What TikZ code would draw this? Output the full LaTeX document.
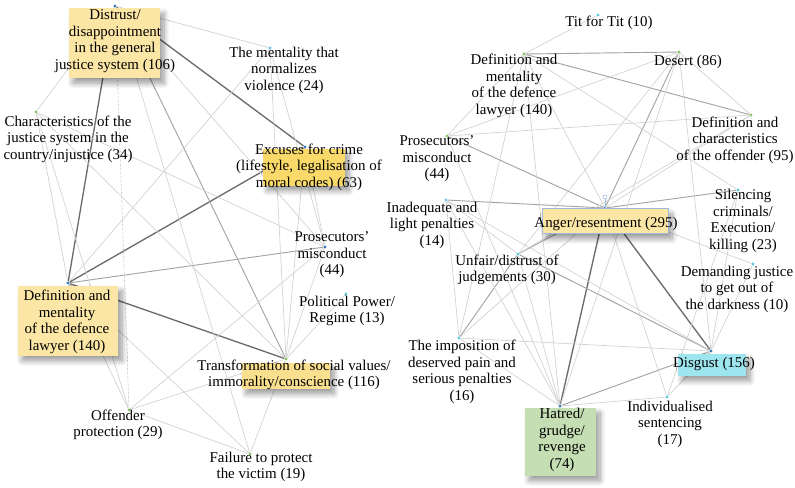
\documentclass[tikz,border=0pt]{standalone}
\usepackage{fontspec}
\setmainfont{Liberation Serif}
\usetikzlibrary{positioning,shadows.blur}

\definecolor{paleyellow}{HTML}{FBE6A5}
\definecolor{goldyellow}{HTML}{F8D96A}
\definecolor{midyellow}{HTML}{F9DF8E}
\definecolor{disgustcyan}{HTML}{9EE6EF}
\definecolor{hatredgreen}{HTML}{C6DEB3}
\definecolor{dotblue}{HTML}{3A78C0}
\definecolor{dotcyan}{HTML}{5BC8E0}
\definecolor{dotgreen}{HTML}{8CC265}
\definecolor{selblue}{HTML}{9DB9D8}

\begin{document}
\begin{tikzpicture}[x=0.75pt,y=-0.75pt,
  dot/.style={shape=circle,fill=#1,inner sep=0pt,minimum size=2.4pt},
  lab/.style={align=center,inner sep=0pt,font=\fontsize{11.2}{12.4}\selectfont},
  hl/.style={shape=rectangle,fill=#1,inner sep=0pt,
    blur shadow={shadow xshift=3pt,shadow yshift=-4pt,shadow blur radius=4pt,shadow blur steps=10,shadow opacity=40}},
  weak/.style={draw=black!18,line width=0.5pt},
  mid/.style={draw=black!36,line width=0.7pt},
  strong/.style={draw=black!58,line width=1pt}]

\useasboundingbox (0,0) rectangle (795,487);

% left network: dots
\node[dot=dotblue] (D) at (115,6) {};
\node[dot=dotcyan] (M) at (270,48) {};
\node[dot=dotgreen] (C) at (36,112) {};
\node[dot=dotblue] (E) at (305,147) {};
\node[dot=dotblue] (P) at (325,247) {};
\node[dot=dotcyan] (R) at (346,294) {};
\node[dot=dotblue] (L) at (68,283) {};
\node[dot=dotgreen] (T) at (286,359) {};
\node[dot=dotgreen] (O) at (129,410) {};
\node[dot=dotgreen] (F) at (250,454) {};

% right network: dots
\node[dot=dotcyan] (TT) at (598,15) {};
\node[dot=dotgreen] (RL) at (524,54) {};
\node[dot=dotgreen] (DS) at (679,52) {};
\node[dot=dotgreen] (DO) at (751,115) {};
\node[dot=dotgreen] (RP) at (447,136) {};
\node[dot=dotcyan] (IP) at (446,200) {};
\node[dot=dotcyan] (SC) at (738,190) {};
\node[dot=dotblue] (A) at (605,208) {};
\node[dot=dotcyan] (U) at (518,254) {};
\node[dot=dotcyan] (DJ) at (753,264) {};
\node[dot=dotcyan] (IM) at (459,338) {};
\node[dot=dotblue] (G) at (711,351) {};
\node[dot=dotcyan] (IS) at (667,397) {};
\node[dot=dotblue] (H) at (560,406) {};

% left network: links
\path [strong] (D) edge (E);
\path [strong] (D) edge (L);
\path [strong] (E) edge (L);
\path [strong] (L) edge (T);
\path [mid] (D) edge (T);
\path [mid] (L) edge (P);
\path [weak] (D) edge (M);
\path [weak] (D) edge (C);
\path [weak] (D) edge (F);
\path [weak] (D) edge (P);
\path [weak,dash pattern=on 2pt off 1pt] (D) edge (O);
\path [weak] (M) edge (L);
\path [weak] (M) edge (T);
\path [weak] (M) edge (P);
\path [weak] (C) edge (L);
\path [weak] (C) edge (O);
\path [weak] (C) edge (T);
\path [weak] (C) edge (P);
\path [weak] (E) edge (T);
\path [weak] (E) edge (P);
\path [weak] (L) edge (F);
\path [weak] (L) edge (O);
\path [weak] (O) edge (T);
\path [weak] (O) edge (P);
\path [weak] (O) edge (F);
\path [weak] (T) edge (F);
\path [weak] (P) edge (T);
\path [weak] (R) edge (T);

% right network: links
\path [strong] (A) edge (G);
\path [strong] (A) edge (H);
\path [mid] (RP) edge (A);
\path [mid] (RL) edge (DO);
\path [mid] (RL) edge (DS);
\path [mid] (DS) edge (A);
\path [mid] (SC) edge (A);
\path [mid] (H) edge (G);
\path [mid] (U) edge (G);
\path [mid] (U) edge (IM);
\path [mid] (IP) edge (A);
\path [mid] (A) edge (U);
\path [weak] (TT) edge (RL);
\path [weak] (DS) edge (DO);
\path [weak] (DS) edge (RP);
\path [weak] (RL) edge (RP);
\path [weak] (RP) edge (DO);
\path [weak] (DS) edge (U);
\path [weak] (DS) edge (G);
\path [weak] (DS) edge (H);
\path [weak] (RL) edge (A);
\path [weak] (RL) edge (SC);
\path [weak] (RL) edge (IM);
\path [weak] (RL) edge (H);
\path [weak] (DO) edge (A);
\path [weak] (DO) edge (U);
\path [weak] (A) edge (IS);
\path [weak] (A) edge (DJ);
\path [weak] (A) edge (IM);
\path [weak] (IP) edge (G);
\path [weak] (U) edge (H);
\path [weak] (IM) edge (G);
\path [weak] (IM) edge (H);
\path [weak] (H) edge (IS);
\path [weak] (G) edge (IS);
\path [weak] (DJ) edge (G);
\path [weak] (SC) edge (IS);
\path [weak] (SC) edge (G);
\path [weak] (IP) edge (H);
\path [weak] (RP) edge (H);
\path [weak] (IP) edge (IM);
\path [weak] (IP) edge (U);

% highlight boxes
\node[hl=paleyellow,minimum width=68.25pt,minimum height=52.5pt] (D-box) at (114.5,43) {};
\node[hl=goldyellow,minimum width=61.5pt,minimum height=27.75pt] (E-box) at (304,167) {};
\node[hl=paleyellow,minimum width=75pt,minimum height=52.5pt] (L-box) at (68,320.5) {};
\node[hl=midyellow,minimum width=66pt,minimum height=19.5pt] (T-box) at (286,375.5) {};
\node[hl=paleyellow,draw=selblue,line width=0.4pt,minimum width=94.5pt,minimum height=18.75pt] (A-box) at (605,221) {};
\node[hl=disgustcyan,minimum width=51pt,minimum height=16.5pt] (G-box) at (712,364.5) {};
\node[hl=hatredgreen,minimum width=53.25pt,minimum height=51pt] (H-box) at (560.5,441.5) {};

% selection handle on anger box
\node[shape=circle,draw=selblue,line width=0.4pt,inner sep=0pt,minimum size=3pt] (A-handle) at (605,197) {};
\path [draw=selblue,line width=0.4pt] (A-handle) -- (A-box.north);

% left network: labels
\node[lab] (D-l) at (115,41) {Distrust/\\disappointment\\in the general\\justice system (106)};
\node[lab] (M-l) at (284,70) {The mentality that\\normalizes\\violence (24)};
\node[lab] (C-l) at (68,139) {Characteristics of the\\justice system in the\\country/injustice (34)};
\node[lab] (E-l) at (309,167) {Excuses for crime\\(lifestyle, legalisation of\\moral codes) (63)};
\node[lab] (P-l) at (332,255) {Prosecutors'\\misconduct\\(44)};
\node[lab] (R-l) at (347,311) {Political Power/\\Regime (13)};
\node[lab] (L-l) at (67,322) {Definition and\\mentality\\of the defence\\lawyer (140)};
\node[lab] (T-l) at (294,375) {Transformation of social values/\\immorality/conscience (116)};
\node[lab] (O-l) at (118,425) {Offender\\protection (29)};
\node[lab] (F-l) at (261,467) {Failure to protect\\the victim (19)};

% right network: labels
\node[lab] (TT-l) at (609,23) {Tit for Tit (10)};
\node[lab] (RL-l) at (514,86) {Definition and\\mentality\\of the defence\\lawyer (140)};
\node[lab] (DS-l) at (688,62) {Desert (86)};
\node[lab] (DO-l) at (735,140) {Definition and\\characteristics\\of the offender (95)};
\node[lab] (RP-l) at (437,159) {Prosecutors'\\misconduct\\(44)};
\node[lab] (IP-l) at (432,225) {Inadequate and\\light penalties\\(14)};
\node[lab] (SC-l) at (743,221) {Silencing\\criminals/\\Execution/\\killing (23)};
\node[lab] (A-l) at (606,224) {Anger/resentment (295)};
\node[lab] (U-l) at (507,270) {Unfair/distrust of\\judgements (30)};
\node[lab] (DJ-l) at (737,289) {Demanding justice\\to get out of\\the darkness (10)};
\node[lab] (IM-l) at (462,372) {The imposition of\\deserved pain and\\serious penalties\\(16)};
\node[lab] (G-l) at (714,364) {Disgust (156)};
\node[lab] (IS-l) at (670,424) {Individualised\\sentencing\\(17)};
\node[lab] (H-l) at (562,440) {Hatred/\\grudge/\\revenge\\(74)};
\end{tikzpicture}
\end{document}
